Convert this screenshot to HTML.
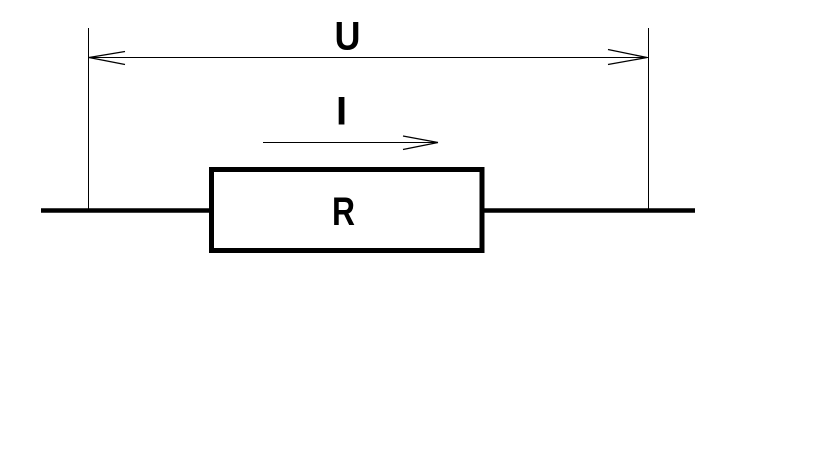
<!DOCTYPE html>
<html>
<head>
<meta charset="utf-8">
<style>
  html, body { margin:0; padding:0; background:#fff; }
  body { width:819px; height:460px; overflow:hidden; }
  svg { display:block; }
  text { font-family: "Liberation Sans", Arial, sans-serif; font-weight: bold; font-size: 40px; fill:#000; }
  .c { shape-rendering: crispEdges; }
</style>
</head>
<body>
<svg width="819" height="460" viewBox="0 0 819 460" xmlns="http://www.w3.org/2000/svg">
  <rect x="0" y="0" width="819" height="460" fill="#fff"/>
  <!-- vertical extension lines -->
  <line class="c" x1="88.5" y1="28" x2="88.5" y2="209" stroke="#000" stroke-width="1"/>
  <line class="c" x1="648.5" y1="28" x2="648.5" y2="209" stroke="#000" stroke-width="1"/>
  <!-- U dimension line -->
  <line class="c" x1="89" y1="57.5" x2="648" y2="57.5" stroke="#000" stroke-width="1"/>
  <!-- left arrowhead -->
  <line x1="89" y1="57.5" x2="125" y2="51.5" stroke="#000" stroke-width="1.3"/>
  <line x1="89" y1="57.5" x2="125" y2="64.5" stroke="#000" stroke-width="1.3"/>
  <!-- right arrowhead -->
  <line x1="647" y1="57.5" x2="608" y2="49.5" stroke="#000" stroke-width="1.3"/>
  <line x1="647" y1="57.5" x2="608" y2="64.5" stroke="#000" stroke-width="1.3"/>
  <!-- I arrow -->
  <line class="c" x1="263" y1="142.5" x2="438" y2="142.5" stroke="#000" stroke-width="1"/>
  <line x1="438" y1="142.5" x2="403" y2="136" stroke="#000" stroke-width="1.3"/>
  <line x1="438" y1="142.5" x2="403" y2="149.5" stroke="#000" stroke-width="1.3"/>
  <!-- wires -->
  <line x1="41" y1="210.5" x2="211" y2="210.5" stroke="#000" stroke-width="4.5"/>
  <line x1="482" y1="210.5" x2="695" y2="210.5" stroke="#000" stroke-width="4.5"/>
  <!-- resistor -->
  <rect x="211.5" y="169.5" width="270.5" height="81" fill="none" stroke="#000" stroke-width="5"/>
  <!-- labels -->
  <text x="347.5" y="49.5" text-anchor="middle" textLength="26" lengthAdjust="spacingAndGlyphs">U</text>
  <text x="341.5" y="124.5" text-anchor="middle">I</text>
  <text x="343.5" y="225" text-anchor="middle" textLength="23" lengthAdjust="spacingAndGlyphs">R</text>
</svg>
</body>
</html>
